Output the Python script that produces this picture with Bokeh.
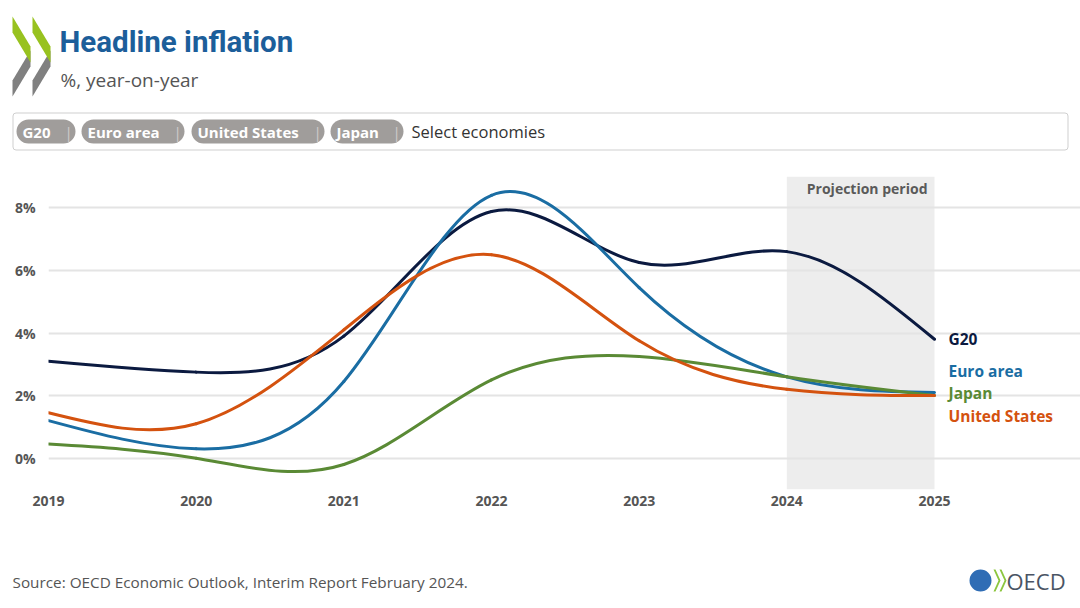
import numpy as np
from bokeh.plotting import figure
from bokeh.layouts import column
from bokeh.models import Range1d, FixedTicker, PrintfTickFormatter, Label, Plot
from bokeh.core.properties import value
from bokeh.embed import file_html
from bokeh.resources import INLINE

# ---------------- data ----------------
years = [2019, 2020, 2021, 2022, 2023, 2024, 2025]
g20 = [3.1, 2.75, 3.9, 7.88, 6.25, 6.6, 3.8]
euro_area = [1.2, 0.3, 2.45, 8.4, 5.45, 2.6, 2.1]
united_states = [1.45, 1.1, 4.1, 6.5, 3.75, 2.2, 2.0]
japan = [0.45, 0.0, -0.2, 2.5, 3.25, 2.6, 2.0]
y_ticks = [0, 2, 4, 6, 8]
projection_start = 2024
economies = ["G20", "Euro area", "United States", "Japan"]

# ---------------- styles ----------------
FONT = "Open Sans"
GREY = "#555555"
W = 1080
colors = {"G20": "#0b1a40", "Euro area": "#1a6da3",
          "United States": "#d4520f", "Japan": "#5a8a35"}
series = {"G20": g20, "Euro area": euro_area,
          "United States": united_states, "Japan": japan}
HAS_FRAME_ALIGN = "frame_align" in Plot.properties()


def pixel_fig(top, bottom):
    f = figure(width=W, height=bottom - top, x_range=Range1d(0, W),
               y_range=Range1d(bottom, top), output_backend="svg",
               toolbar_location=None, title=None,
               x_axis_location=None, y_axis_location=None,
               min_border=0)
    f.grid.visible = False
    f.outline_line_color = None
    f.background_fill_color = "white"
    f.border_fill_color = "white"
    if HAS_FRAME_ALIGN:
        f.frame_align = False
    return f


def txt(f, X, Y, text, size, color, style="normal", align="left", font=FONT):
    f.text(x=[X], y=[Y], text=[text], text_font=value(font),
           text_font_size=value(f"{size}px"), text_color=color,
           text_font_style=style, text_align=align, text_baseline="middle")


# ---------------- header ----------------
head = pixel_fig(0, 160)
for ox in (12, 32):
    head.patch(x=[ox + 18, ox + 18, ox, ox], y=[50, 66, 96, 80],
               fill_color="#808080", line_color=None)
    head.patch(x=[ox, ox + 18, ox + 18, ox], y=[16, 46, 62, 32],
               fill_color="#98c21f", line_color=None)
txt(head, 59, 41, "Headline inflation", 29.5, "#1c5e9a", "bold", font="Roboto")
txt(head, 60, 79, "%, year-on-year", 19, GREY)

head.quad(left=[12.5], right=[1067.5], top=[112.5], bottom=[149.5],
          fill_color="white", line_color="#cfcfcf", line_width=1,
          border_radius=3)
pills = [("G20", 16, 75, 64), ("Euro area", 81, 184, 173),
         ("United States", 191, 324, 313), ("Japan", 330, 403, 392)]
for t, L, R, sep in pills:
    head.quad(left=[L], right=[R], top=[119], bottom=[143],
              fill_color="#a09d9b", line_color=None, border_radius=12)
    txt(head, L + 6, 131, t, 15, "white", "bold")
    txt(head, sep, 131, "|", 15, "#cfcccb")
txt(head, 411, 131, "Select economies", 16.5, "#333333")

# ---------------- chart ----------------
CH_TOP, CH_BOT = 160, 540
FR_L, FR_R, FR_T, FR_B = 48, 934, 176, 489
px_per_year = (FR_R - FR_L) / (years[-1] - years[0])
x_end = years[-1] + (W - FR_R) / px_per_year

p = figure(width=W, height=CH_BOT - CH_TOP, x_range=Range1d(years[0], x_end),
           y_range=Range1d(-1, 9), output_backend="svg",
           toolbar_location=None, title=None,
           min_border_left=FR_L, min_border_right=0,
           min_border_top=FR_T - CH_TOP, min_border_bottom=CH_BOT - FR_B)
p.outline_line_color = None
p.background_fill_color = "white"
p.border_fill_color = "white"
if HAS_FRAME_ALIGN:
    p.frame_align = False

for ax in (p.xaxis[0], p.yaxis[0]):
    ax.axis_line_color = None
    ax.major_tick_line_color = None
    ax.minor_tick_line_color = None
    ax.major_tick_out = 0
    ax.major_tick_in = 0
    ax.minor_tick_out = 0
    ax.major_label_text_font = FONT
    ax.major_label_text_font_size = "14px"
    ax.major_label_text_color = GREY
    ax.major_label_text_font_style = "bold"
p.xaxis[0].ticker = FixedTicker(ticks=years)
p.xaxis[0].formatter = PrintfTickFormatter(format="%d")
p.xaxis[0].major_label_standoff = 6
p.yaxis[0].ticker = FixedTicker(ticks=y_ticks)
p.yaxis[0].formatter = PrintfTickFormatter(format="%d%%")
p.yaxis[0].major_label_standoff = 13
p.xgrid.visible = False
p.ygrid.grid_line_color = "#e4e4e4"
p.ygrid.grid_line_width = 2
p.ygrid.bounds = (years[0], years[-1])

# projection band
p.quad(left=[projection_start], right=[years[-1]],
       bottom=[p.y_range.start], top=[p.y_range.end],
       fill_color="#ededed", line_color=None, level="image")


def natural_bezier(x, y):
    x = np.asarray(x, float)
    y = np.asarray(y, float)
    n = len(x) - 1
    h = np.diff(x)
    A = np.zeros((n + 1, n + 1))
    r = np.zeros(n + 1)
    A[0, 0] = A[n, n] = 1
    for i in range(1, n):
        A[i, i - 1] = h[i - 1]
        A[i, i] = 2 * (h[i - 1] + h[i])
        A[i, i + 1] = h[i]
        r[i] = 6 * ((y[i + 1] - y[i]) / h[i] - (y[i] - y[i - 1]) / h[i - 1])
    M = np.linalg.solve(A, r)
    s = (y[1:] - y[:-1]) / h
    ml = s - h * (2 * M[:-1] + M[1:]) / 6
    mr = s + h * (M[:-1] + 2 * M[1:]) / 6
    return dict(x0=x[:-1], y0=y[:-1], x1=x[1:], y1=y[1:],
                cx0=x[:-1] + h / 3, cy0=y[:-1] + ml * h / 3,
                cx1=x[1:] - h / 3, cy1=y[1:] - mr * h / 3)


for name in ["G20", "Euro area", "Japan", "United States"]:
    b = natural_bezier(years, series[name])
    p.bezier(line_color=colors[name], line_width=3, line_cap="round", **b)

# end labels (collision-adjusted offsets, px)
label_offsets = {"G20": 0, "Euro area": 21, "Japan": 2.5, "United States": -20.5}
for name in economies:
    p.add_layout(Label(x=years[-1], y=series[name][-1], x_offset=14,
                       y_offset=label_offsets[name], text=name,
                       text_font=FONT, text_font_size="15.5px",
                       text_font_style="bold",
                       text_color=colors[name], text_baseline="middle"))

p.add_layout(Label(x=927 - FR_L, y=FR_B - 188, x_units="screen", y_units="screen",
                   text="Projection period", text_font=FONT, text_font_size="14px",
                   text_font_style="bold",
                   text_color="#5a5a5a", text_align="right", text_baseline="middle"))

# ---------------- footer ----------------
foot = pixel_fig(540, 608)
txt(foot, 12, 581, "Source: OECD Economic Outlook, Interim Report February 2024.", 15.3, GREY)
foot.circle(x=[980], y=[580], radius=11, fill_color="#2f6db5", line_color=None)
for ox in (993, 999):
    foot.patch(x=[ox, ox + 5, ox, ox + 2, ox + 7, ox + 2],
               y=[569, 580, 591, 591, 580, 569],
               fill_color="#8dc63f", line_color=None)
txt(foot, 1006, 580, "OECD", 22, "#4a5464")

if HAS_FRAME_ALIGN:
    layout = column(head, p, foot, spacing=0)
else:
    layout = column(column(head), p, column(foot), spacing=0)
open("out.html", "w").write(file_html(layout, INLINE))
